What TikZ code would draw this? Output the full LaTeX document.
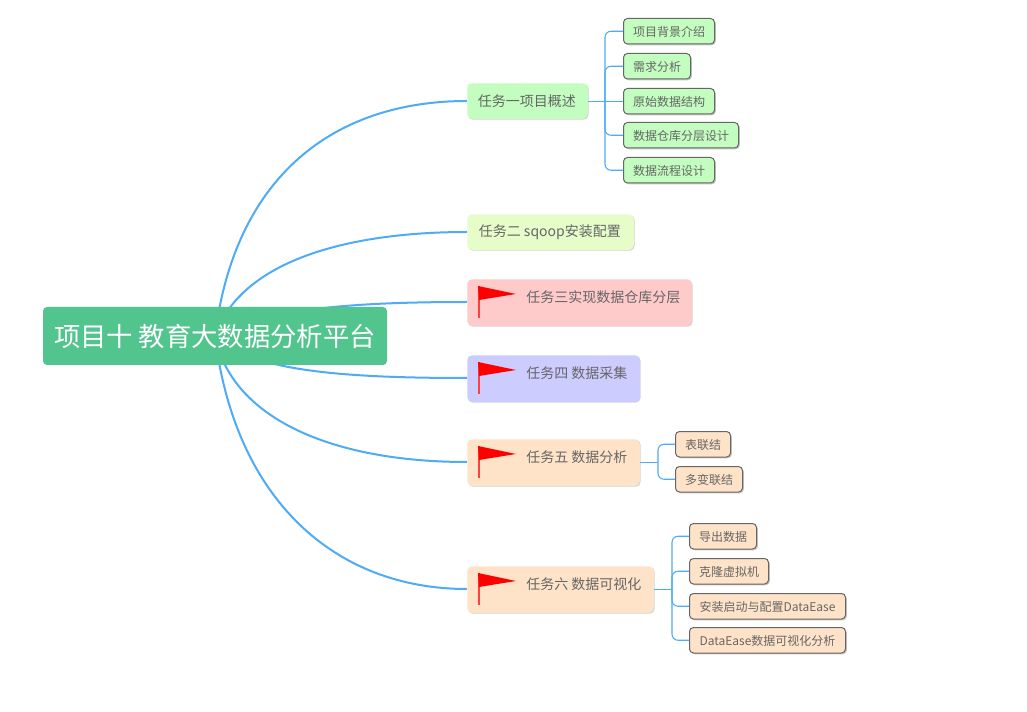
\documentclass[tikz,border=0pt]{standalone}
\usepackage{fontspec}
\setmainfont{Noto Sans CJK SC}
\usetikzlibrary{shadows,positioning}
\definecolor{rootc}{HTML}{52C48E}
\definecolor{greenc}{HTML}{C3FDBF}
\definecolor{limec}{HTML}{E6FDCA}
\definecolor{redc}{HTML}{FFCACA}
\definecolor{bluec}{HTML}{CCCCFF}
\definecolor{orangec}{HTML}{FFE3C8}
\definecolor{linkc}{HTML}{4DABF7}
\definecolor{textc}{HTML}{666666}
\definecolor{edgec}{HTML}{666666}
\tikzset{
  mainlink/.style={draw=linkc,line width=1.5pt},
  sublink/.style={draw=linkc,line width=0.8pt,rounded corners=4.5pt},
  rootbox/.style={fill=rootc,rounded corners=3pt,inner sep=0pt,minimum width=344*0.75pt,minimum height=58*0.75pt,text=white,font=\fontsize{19.75pt}{23pt}\selectfont},
  taskbox/.style={rounded corners=3.5pt,inner sep=0pt,anchor=north west,text=textc,font=\fontsize{10.5pt}{13pt}\selectfont,
    general shadow={shadow xshift=0.6pt,shadow yshift=-0.6pt,fill=black,opacity=0.18}},
  tasktext/.style={anchor=west,inner sep=0pt,text=textc,font=\fontsize{10.5pt}{13pt}\selectfont},
  leafbox/.style={draw=edgec,line width=0.75pt,rounded corners=3pt,inner sep=0pt,anchor=north west,minimum height=25.5*0.75pt,text height=9pt,text depth=1pt,text=textc,font=\fontsize{9pt}{11pt}\selectfont,
    general shadow={shadow xshift=1pt,shadow yshift=-1pt,fill=black,opacity=0.22}},
  flagcloth/.style={fill=red,draw=none},
  flagpole/.style={fill=red!75!white,draw=none}
}
\newcommand{\redflag}[2]{%
  \fill[flagpole] (#1,#2) rectangle ++(2,32);
  \fill[flagcloth] (#1,#2) -- ++(38,8) -- ++(-37,6) -- cycle;
}
\begin{document}
\begin{tikzpicture}[x=0.75pt,y=-0.75pt]
\useasboundingbox (0,0) rectangle (1027,712);
\fill[white] (0,0) rectangle (1027,712);
\coordinate (rc) at (215,336);
% curves are drawn before their end boxes
\coordinate (t1w) at (467,101);
\coordinate (t2w) at (467,232);
\coordinate (t3w) at (467,302);
\coordinate (t4w) at (467,378);
\coordinate (t5w) at (467,462);
\coordinate (t6w) at (467,589);
\draw[mainlink] (rc) .. controls (235,175) and (335,101) .. (t1w);
\draw[mainlink] (rc) .. controls (240,262) and (345,232) .. (t2w);
\draw[mainlink] (rc) .. controls (266,309) and (350,302) .. (t3w);
\draw[mainlink] (rc) .. controls (250,372) and (350,378) .. (t4w);
\draw[mainlink] (rc) .. controls (232,420) and (335,462) .. (t5w);
\draw[mainlink] (rc) .. controls (235,500) and (335,589) .. (t6w);

\node[rootbox] (root) at (215,336) {\raisebox{-4pt}{项目十 教育大数据分析平台}};

\node[taskbox,fill=greenc,minimum width=120.5*0.75pt,minimum height=35.5*0.75pt] (t1) at (467,83) {\hspace*{-1pt}\raisebox{-0.7pt}{任务一项目概述}};
\node[taskbox,fill=limec,minimum width=166.5*0.75pt,minimum height=35.5*0.75pt] (t2) at (467,214) {\hspace*{-1pt}\raisebox{-1.2pt}{任务二 sqoop安装配置}};
\node[taskbox,fill=redc,minimum width=224.5*0.75pt,minimum height=46.5*0.75pt] (t3) at (467,279) {};
\node[taskbox,fill=bluec,minimum width=172.5*0.75pt,minimum height=46.5*0.75pt] (t4) at (467,355) {};
\node[taskbox,fill=orangec,minimum width=172.5*0.75pt,minimum height=46.5*0.75pt] (t5) at (467,439) {};
\node[taskbox,fill=orangec,minimum width=186.5*0.75pt,minimum height=46.5*0.75pt] (t6) at (467,566) {};

\node[tasktext] (t3t) at (526,297.5) {任务三实现数据仓库分层};
\node[tasktext] (t4t) at (526,373.5) {任务四 数据采集};
\node[tasktext] (t5t) at (526,457.5) {任务五 数据分析};
\node[tasktext] (t6t) at (526,584.5) {任务六 数据可视化};
\redflag{478}{286}
\redflag{478}{362}
\redflag{478}{446}
\redflag{478}{573}

% leaves of task one
\node[leafbox,fill=greenc,minimum width=91*0.75pt] (a1) at (623,18) {项目背景介绍};
\node[leafbox,fill=greenc,minimum width=67*0.75pt] (a2) at (623,53) {需求分析};
\node[leafbox,fill=greenc,minimum width=91*0.75pt] (a3) at (623,88) {原始数据结构};
\node[leafbox,fill=greenc,minimum width=115*0.75pt] (a4) at (623,122) {数据仓库分层设计};
\node[leafbox,fill=greenc,minimum width=91*0.75pt] (a5) at (623,157) {数据流程设计};
\coordinate (ba) at (605,101.5);
\draw[sublink] (ba -| t1.east) -- (ba -| a3.west);
\draw[sublink] (ba) |- (a1.west);
\draw[sublink] (ba) |- (a2.west);
\draw[sublink] (ba) |- (a4.west);
\draw[sublink] (ba) |- (a5.west);

% leaves of task five
\node[leafbox,fill=orangec,minimum width=55*0.75pt] (b1) at (675,431) {表联结};
\node[leafbox,fill=orangec,minimum width=67*0.75pt] (b2) at (675,466) {多变联结};
\coordinate (bb) at (658,462.5);
\draw[sublink] (bb -| t5.east) -- (bb);
\draw[sublink] (bb) |- (b1.west);
\draw[sublink] (bb) |- (b2.west);

% leaves of task six
\node[leafbox,fill=orangec,minimum width=67*0.75pt] (c1) at (689,523) {导出数据};
\node[leafbox,fill=orangec,minimum width=79*0.75pt] (c2) at (689,558) {克隆虚拟机};
\node[leafbox,fill=orangec,minimum width=156*0.75pt] (c3) at (689,593) {安装启动与配置DataEase};
\node[leafbox,fill=orangec,minimum width=156*0.75pt] (c4) at (689,627) {DataEase数据可视化分析};
\coordinate (bc) at (672,589.5);
\draw[sublink] (bc -| t6.east) -- (bc);
\draw[sublink] (bc) |- (c1.west);
\draw[sublink] (bc) |- (c2.west);
\draw[sublink] (bc) |- (c3.west);
\draw[sublink] (bc) |- (c4.west);
\end{tikzpicture}
\end{document}
